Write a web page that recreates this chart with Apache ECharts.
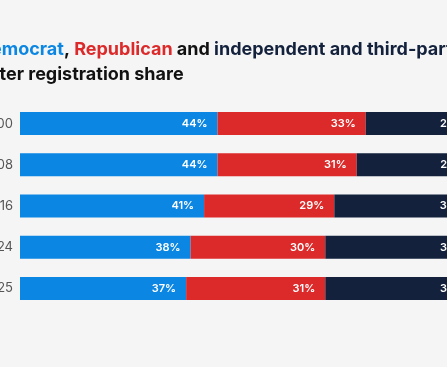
<!DOCTYPE html>
<html>
<head>
<meta charset="utf-8">
<script src="https://cdn.jsdelivr.net/npm/echarts@6/dist/echarts.min.js"></script>
<style>
html,body{margin:0;padding:0;background:#f5f5f5;}
#c{width:447px;height:367px;}
</style>
</head>
<body>
<div id="c"></div>
<script>
const years = ['2000', '2008', '2016', '2024', '2025'];
const democrat = [44, 44, 41, 38, 37];
const republican = [33, 31, 29, 30, 31];
const independent = [23, 25, 30, 32, 32];

const COLORS = { dem: '#0b86e3', rep: '#dc2a2b', ind: '#13213c' };
const FONT = 'Inter, "Noto Sans", sans-serif';

function seriesFor(name, data, color, dist) {
  return {
    name: name,
    type: 'bar',
    stack: 'total',
    data: data,
    barWidth: 23,
    itemStyle: { color: color },
    label: {
      show: true,
      position: 'insideRight',
      distance: dist,
      color: '#ffffff',
      fontFamily: FONT,
      fontWeight: 600,
      fontSize: 11,
      formatter: p => p.value + '%'
    },
    emphasis: { disabled: true }
  };
}

const chart = echarts.init(document.getElementById('c'), null, { renderer: 'canvas' });
chart.setOption({
  backgroundColor: '#f5f5f5',
  animation: false,
  title: [
    {
      left: -27, top: 36,
      text: '{b|Democrat}{k|, }{r|Republican}{k| and }{n|independent and third-party}',
      textStyle: {
        fontFamily: FONT, fontSize: 18, fontWeight: 700,
        rich: {
          b: { color: COLORS.dem, fontFamily: FONT, fontSize: 18, fontWeight: 700 },
          r: { color: COLORS.rep, fontFamily: FONT, fontSize: 18, fontWeight: 700 },
          k: { color: '#111111', fontFamily: FONT, fontSize: 18, fontWeight: 700 },
          n: { color: COLORS.ind, fontFamily: FONT, fontSize: 18, fontWeight: 700 }
        }
      }
    },
    {
      left: -27, top: 61,
      text: 'voter registration share',
      textStyle: { fontFamily: FONT, fontSize: 18, fontWeight: 700, color: '#111111' }
    }
  ],
  grid: { left: 20, width: 449, top: 103, height: 206, containLabel: false, outerBoundsMode: 'none' },
  xAxis: {
    type: 'value', min: 0, max: 100,
    show: false
  },
  yAxis: {
    type: 'category', data: years, inverse: true,
    axisLine: { show: false }, axisTick: { show: false }, splitLine: { show: false },
    axisLabel: { margin: 7, color: '#555555', fontFamily: FONT, fontSize: 13 }
  },
  series: [
    seriesFor('Democrat', democrat, COLORS.dem, 10),
    seriesFor('Republican', republican, COLORS.rep, 10),
    seriesFor('Independent and third-party', independent, COLORS.ind, 4)
  ]
});
</script>
</body>
</html>
